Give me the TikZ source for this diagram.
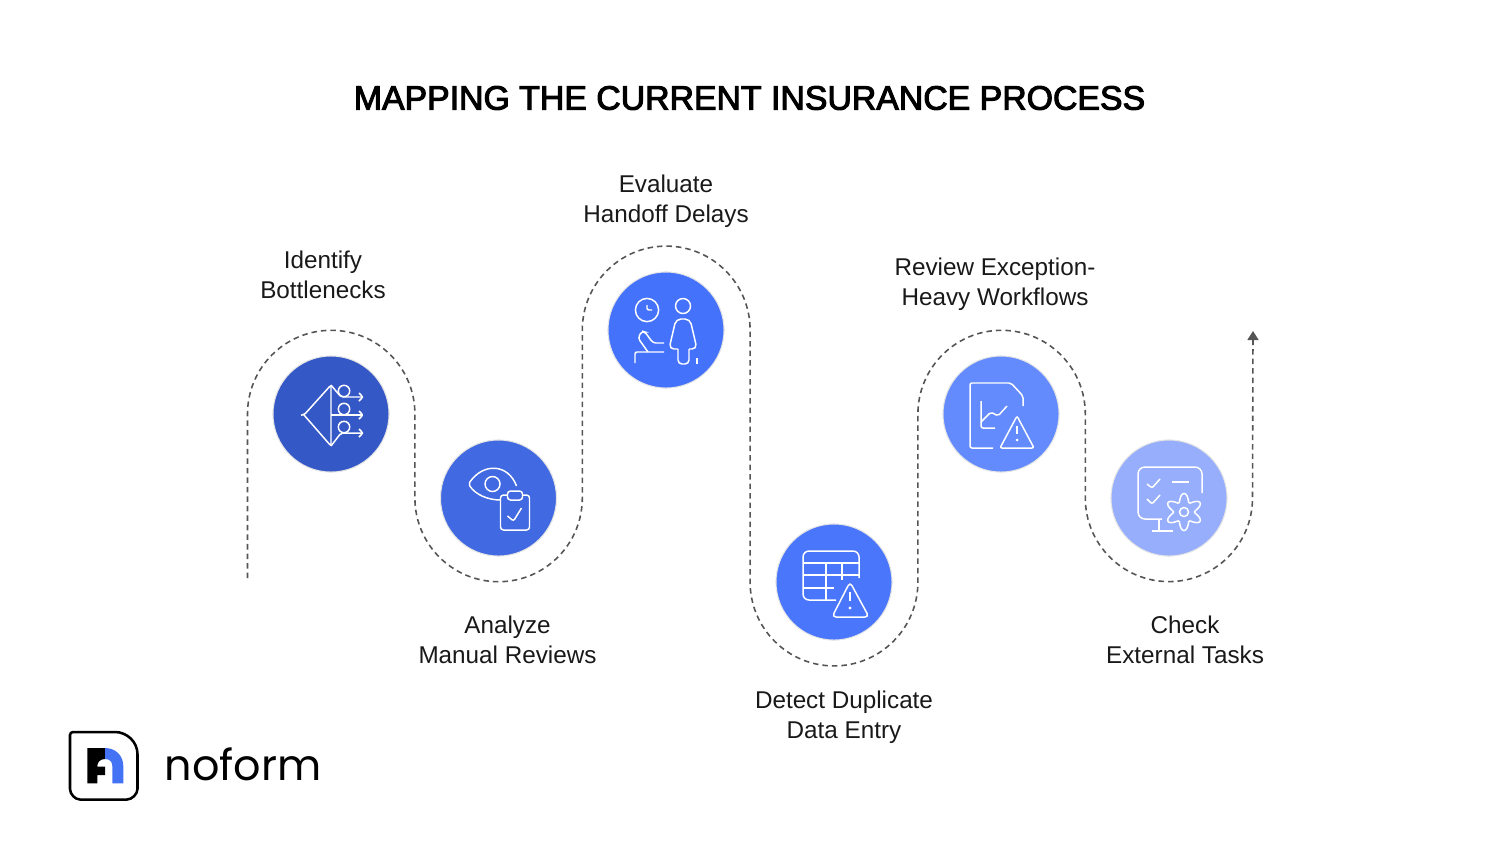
\documentclass[tikz,border=0pt]{standalone}
\usepackage{fontspec}
\setmainfont{Liberation Sans}
\newfontfamily\logofont{Poppins}
\newfontfamily\titlefont[FakeBold=3]{Liberation Sans}
\usetikzlibrary{arrows.meta, positioning}
\definecolor{discone}{HTML}{3558C7}
\definecolor{disctwo}{HTML}{4169E1}
\definecolor{discthree}{HTML}{4472FB}
\definecolor{discfour}{HTML}{4A76FC}
\definecolor{discfive}{HTML}{638BFD}
\definecolor{discsix}{HTML}{96AEFC}
\definecolor{logoblue}{HTML}{4472F5}
\definecolor{trail}{HTML}{555555}
\tikzset{
	disc/.style={
		circle, 
		minimum size=1.16cm, 
		inner sep=0pt, 
		draw=black!10, 
		line width=0.3pt
	},
	steplabel/.style={
		align=center, 
		inner sep=0pt, 
		text=black!90, 
		font=\fontsize{6.9pt}{8.52pt}\selectfont
	},
	icon/.style={
		shift={(#1)}, 
		y=-0.01cm, 
		draw=white, 
		line width=0.42pt, 
		rounded corners=0.02cm
	},
	trailline/.style={
		draw=trail, 
		line width=0.45pt, 
		dash pattern=on 0.055cm off 0.04cm
	}
}

\begin{document}
\begin{tikzpicture}[x=0.01cm, y=0.01cm]
	\useasboundingbox (0,0) rectangle (1500,853);
	\node (title) at (749.5,755) {\titlefont\fontsize{9.62pt}{12pt}\selectfont MAPPING THE CURRENT INSURANCE PROCESS};

	\node (bottleneck) [disc, fill=discone] at (331,439) {};
	\node (manual) [disc, fill=disctwo] at (498.5,355) {};
	\node (handoff) [disc, fill=discthree] at (666,523) {};
	\node (duplicate) [disc, fill=discfour] at (834,271) {};
	\node (exception) [disc, fill=discfive] at (1001,439) {};
	\node (external) [disc, fill=discsix] at (1169,355) {};

	% Labels
	\node (bottlelabel) [steplabel, above=0.56cm of bottleneck, xshift=-0.08cm] {Identify\\Bottlenecks};
	\node (manuallabel) [steplabel, below=0.59cm of manual, xshift=0.09cm] {Analyze\\Manual Reviews};
	\node (handofflabel) [steplabel, above=0.43cm of handoff] {Evaluate\\Handoff Delays};
	\node (duplicatelabel) [steplabel, below=0.50cm of duplicate, xshift=0.1cm] {Detect Duplicate\\Data Entry};
	\node (exceptionlabel) [steplabel, above=0.44cm of exception, xshift=-0.06cm] {Review Exception-\\Heavy Workflows};
	\node (externallabel) [steplabel, below=0.59cm of external, xshift=0.16cm] {Check\\External Tasks};

	% Dashed trail
	\coordinate (trailstart) at (247.5,275);
	\coordinate (trailend) at (1253,522);
	\draw [trailline, -{Triangle[width=0.11cm,length=0.09cm]}] (trailstart) -- ++(0,164)
		arc[start angle=180, end angle=0, radius=83.7] -- ++(0,-84)
		arc[start angle=180, end angle=360, radius=83.7] -- ++(0,168)
		arc[start angle=180, end angle=0, radius=83.9] -- ++(0,-252)
		arc[start angle=180, end angle=360, radius=83.9] -- ++(0,168)
		arc[start angle=180, end angle=0, radius=83.7] -- ++(0,-84)
		arc[start angle=180, end angle=360, radius=83.6] -- (trailend);

	% Icons
	\begin{scope}[icon=bottleneck.center]
		\draw (-30,1) -- (-27,1) -- (0,-29) -- (0,32) -- (-27,1);
		\draw (0,-29) -- (10,-17) -- (32,-17);
		\draw (0,1) -- (32,1);
		\draw (0,32) -- (10,19) -- (32,19);
		\foreach \ay in {-17,1,19} {
			\draw (28,\ay-4) -- (32,\ay) -- (28,\ay+4);
		}
		\foreach \ay in {-23,-5,13} {
			\draw [fill=discone] (13,\ay) circle (5.7);
		}
	\end{scope}
	\begin{scope}[icon=manual.center]
		\draw (18,-12) .. controls (10,-34) and (-15,-36) .. (-30,-14) .. controls (-23,-3) and (-10,2) .. (2,2);
		\draw (-6,-14) circle (7.5);
		\draw [rounded corners=0.03cm] (2,-3) rectangle (31,32);
		\draw [fill=disctwo, rounded corners=0.03cm] (9,-7) rectangle (24,2);
		\draw (9,18) -- (15,23) -- (23,10);
	\end{scope}
	\begin{scope}[icon=handoff.center]
		\draw (-19,-20) circle (11.6);
		\draw (-19,-25) -- (-19,-20) -- (-14,-20);
		\draw (17,-24) circle (7.5);
		\draw [rounded corners=0.05cm] (12,19) -- (3,19) -- (10,-11) -- (24,-11) -- (31,19) -- (23,19);
		\draw [rounded corners=0.04cm] (12,19) -- (12,34) -- (23,34) -- (23,19);
		\draw (-31,33) -- (-31,22) -- (-2,22);
		\draw [rounded corners=0.03cm] (-18,22) -- (-28,8) -- (-24,1) -- (-21,2) -- (-13,13) -- (-2,13);
		\draw (31,28) -- (31,34);
	\end{scope}
	\begin{scope}[icon=duplicate.center]
		\draw [rounded corners=0.06cm] (2,18) -- (-31,18) -- (-31,-31) -- (25,-31) -- (25,-4);
		\draw (-31,-19) -- (25,-19);
		\draw (-31,-7) -- (25,-7);
		\draw (-31,6) -- (0,6);
		\draw (-8,-19) -- (-8,18);
		\draw (8,-19) -- (8,-2);
		\draw [rounded corners=0.04cm] (16,0) -- (-2,35) -- (35,35) -- cycle;
		\draw (16,10) -- (16,19);
		\fill [white] (16,26) circle (1.6);
	\end{scope}
	\begin{scope}[icon=exception.center]
		\draw (-8,34) -- (-31,34) -- (-31,-31) -- (10,-31) -- (22,-18) -- (22,-8);
		\draw (-20,-13) -- (-20,14) -- (-6,14);
		\draw (-20,8) -- (-10,-2) -- (-3,2) -- (6,-8);
		\draw (16,2) -- (-1,34) -- (33,34) -- cycle;
		\draw (16,12) -- (16,20);
		\fill [white] (16,26) circle (1.5);
	\end{scope}
	\begin{scope}[icon=external.center]
		\draw [rounded corners=0.07cm] (-7,21) -- (-31,21) -- (-31,-31) -- (33,-31) -- (33,-5);
		\draw (-10,21) -- (-10,33);
		\draw (-17,33) -- (4,33);
		\draw (-22,-14) -- (-17,-10) -- (-9,-19);
		\draw (-22,1) -- (-17,6) -- (-9,-3);
		\draw (3,-16) -- (20,-16);
		\draw [sharp corners, fill=discsix] plot[domain=0:360, samples=121] ({15+(14.5-4*cos(6*\x))*cos(\x)}, {14+(14.5-4*cos(6*\x))*sin(\x)}) -- cycle;
		\draw (15,14) circle (4.5);
	\end{scope}

	% Logo
	\draw [line width=0.72pt, rounded corners=0.03cm] (70,121) -- (112,121)
		.. controls (127,121) and (137.5,111) .. (137.5,96) -- (137.5,67)
		.. controls (137.5,59) and (132,53.5) .. (124,53.5) -- (83,53.5)
		.. controls (75,53.5) and (70,59) .. (70,67) -- cycle;
	\fill [black] (87.3,105) -- (105,105) -- (105,94) .. controls (100.5,94) and (97.3,91) .. (97.3,87) -- (97.3,86.3) -- (105,86.3) -- (105,78) -- (97.3,78) -- (97.3,69.7) -- (87.3,69.7) -- cycle;
	\fill [logoblue] (105,105) .. controls (116,105) and (123.3,97) .. (123.3,87) -- (123.3,69.7) -- (112.3,69.7) -- (112.3,87) .. controls (112.3,91) and (110,94) .. (105,94) -- cycle;
	\node (logotext) [anchor=base west, inner sep=0pt, font=\logofont\fontsize{12.2pt}{14pt}\selectfont] at (164,73) {noform};
\end{tikzpicture}
\end{document}
